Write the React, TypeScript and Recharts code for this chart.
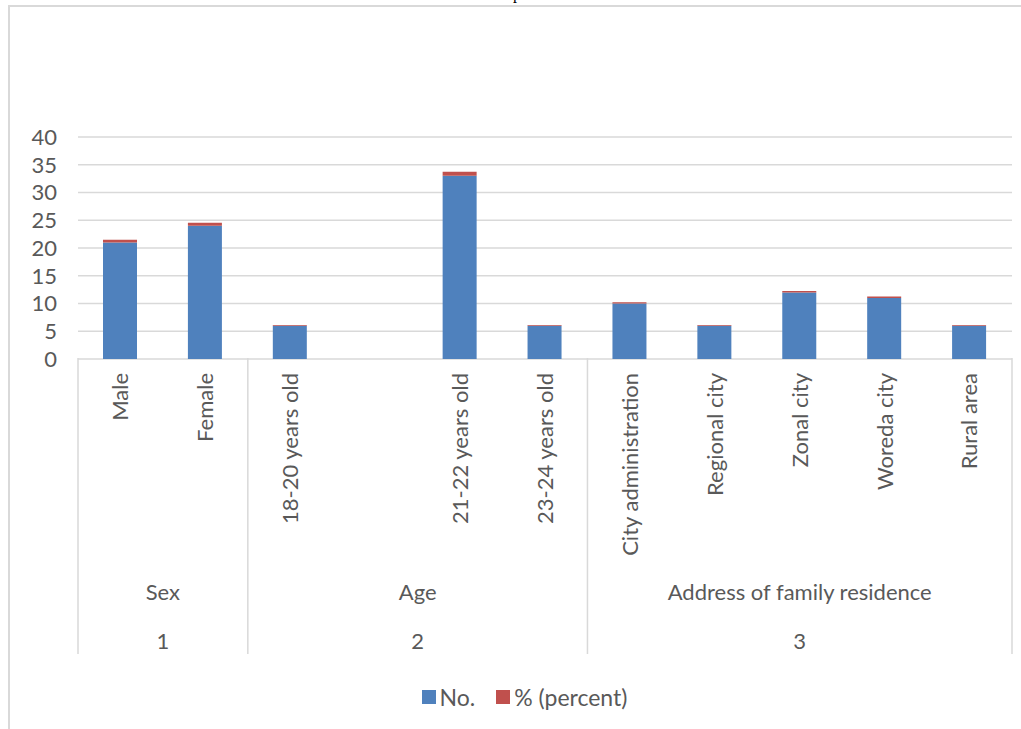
import React from 'react';
import { BarChart, Bar, XAxis, YAxis, CartesianGrid, Legend } from 'recharts';

// category labels (blank slot kept between the first and second age group)
const categories = [
    'Male',
    'Female',
    '18-20 years old',
    '',
    '21-22 years old',
    '23-24 years old',
    'City administration',
    'Regional city',
    'Zonal city',
    'Woreda city',
    'Rural area'
];
const counts = [21, 24, 6, null, 33, 6, 10, 6, 12, 11, 6];
const percents = [0.467, 0.533, 0.133, null, 0.733, 0.133, 0.222, 0.133, 0.267, 0.244, 0.133];

const groupNames = ['Sex', 'Age', 'Address of family residence'];
const groupNumbers = ['1', '2', '3'];
const groupSizes = [2, 4, 5];

const yTicks = [0, 5, 10, 15, 20, 25, 30, 35, 40];
const seriesNames = ['No.', '% (percent)'];
const colors = ['#4f81bd', '#c0504d'];

const TEXT = '#595959';
const LINE = '#d9d9d9';
const FONT = 'Lato, "Open Sans", sans-serif';
const FS = 22;

// slot = centre of each category in category units, used by the helper number axes
const chartData = categories.map((label, i) => ({
    label,
    slot: i + 0.5,
    no: counts[i],
    pct: percents[i]
}));

// group boundaries and centres, in category units
const bounds = groupSizes.reduce<number[]>((acc, s) => [...acc, acc[acc.length - 1] + s], [0]);
const centres = groupSizes.map((s, i) => bounds[i] + s / 2);
const total = bounds[bounds.length - 1];

// bottom axes stack in id order, so ids are prefixed to keep them in place
const SEP = 'a_sep';
const CAT = 'b_cat';
const GRP = 'c_grp';
const NUM = 'd_num';

const CategoryTick = (props: any) => {
    const { x, y, payload } = props;
    const ty = y + 13;
    return (
        <text
            x={x}
            y={ty}
            transform={`rotate(-90 ${x} ${ty})`}
            textAnchor="end"
            dy="0.36em"
            fill={TEXT}
            fontSize={FS}
            fontFamily={FONT}
        >
            {payload.value}
        </text>
    );
};

// group separator: a long vertical line hanging from the category axis
const SeparatorTick = (props: any) => {
    const { x, y } = props;
    return <line x1={x} x2={x} y1={y - 1} y2={y + 295} stroke={LINE} strokeWidth={1.5} />;
};

const makeGroupTick = (labels: string[], offset: number) => (props: any) => {
    const { x, y, payload } = props;
    const idx = centres.indexOf(payload.value);
    return (
        <text x={x} y={y + offset} textAnchor="middle" dy="0.36em" fill={TEXT} fontSize={FS} fontFamily={FONT}>
            {labels[idx] ?? ''}
        </text>
    );
};

const LegendContent = () => (
    <div
        style={{
            width: 1021,
            height: 64,
            display: 'flex',
            alignItems: 'center',
            justifyContent: 'center',
            paddingLeft: 28,
            boxSizing: 'border-box',
            fontFamily: FONT,
            fontSize: 23,
            color: TEXT
        }}
    >
        {seriesNames.map((name, i) => (
            <span key={name} style={{ display: 'flex', alignItems: 'center', marginRight: i === 0 ? 21 : 0 }}>
                <span style={{ width: 14, height: 14, background: colors[i], marginRight: 4, display: 'inline-block' }} />
                {name}
            </span>
        ))}
    </div>
);

export default function App() {
    return (
        <div
            style={{
                position: 'absolute',
                left: 0,
                top: 0,
                width: 1021,
                height: 729,
                overflow: 'hidden',
                background: '#fff'
            }}
        >
            <span
                style={{
                    position: 'absolute',
                    left: 513,
                    top: -14,
                    fontFamily: '"Liberation Serif", serif',
                    fontSize: 16,
                    lineHeight: '16px',
                    color: '#000'
                }}
            >
                p
            </span>
            <div
                style={{
                    position: 'absolute',
                    left: 8,
                    top: 5,
                    width: 1100,
                    height: 800,
                    border: `2px solid ${LINE}`
                }}
            />
            <div style={{ position: 'absolute', left: 0, top: 0 }}>
                <BarChart
                    width={1021}
                    height={729}
                    data={chartData}
                    margin={{ top: 137, right: 9, left: 0, bottom: 0 }}
                    barSize={34}
                >
                    <CartesianGrid xAxisId={CAT} vertical={false} stroke={LINE} strokeWidth={1.5} />
                    <XAxis
                        xAxisId={SEP}
                        dataKey="slot"
                        type="number"
                        domain={[0, total]}
                        ticks={bounds}
                        allowDataOverflow
                        interval={0}
                        height={1}
                        tickSize={0}
                        tickMargin={0}
                        tickLine={false}
                        axisLine={false}
                        tick={<SeparatorTick />}
                    />
                    <XAxis
                        xAxisId={CAT}
                        dataKey="label"
                        type="category"
                        interval={0}
                        height={215}
                        tickSize={0}
                        tickMargin={0}
                        tickLine={false}
                        axisLine={false}
                        tick={<CategoryTick />}
                    />
                    <XAxis
                        xAxisId={GRP}
                        dataKey="slot"
                        type="number"
                        domain={[0, total]}
                        ticks={centres}
                        allowDataOverflow
                        height={42}
                        tickSize={0}
                        tickMargin={0}
                        tickLine={false}
                        axisLine={false}
                        interval={0}
                        tick={makeGroupTick(groupNames, 17)}
                    />
                    <XAxis
                        xAxisId={NUM}
                        dataKey="slot"
                        type="number"
                        domain={[0, total]}
                        ticks={centres}
                        allowDataOverflow
                        height={48}
                        tickSize={0}
                        tickMargin={0}
                        tickLine={false}
                        axisLine={false}
                        interval={0}
                        tick={makeGroupTick(groupNumbers, 24)}
                    />
                    <YAxis
                        domain={[0, 40]}
                        ticks={yTicks}
                        interval={0}
                        width={78}
                        tickLine={false}
                        axisLine={false}
                        tickSize={0}
                        tickMargin={21}
                        tick={{ fill: TEXT, fontSize: FS, fontFamily: FONT }}
                    />
                    <Legend verticalAlign="bottom" content={<LegendContent />} />
                    <Bar
                        xAxisId={CAT}
                        dataKey="no"
                        name={seriesNames[0]}
                        stackId="a"
                        fill={colors[0]}
                        isAnimationActive={false}
                    />
                    <Bar
                        xAxisId={CAT}
                        dataKey="pct"
                        name={seriesNames[1]}
                        stackId="a"
                        fill={colors[1]}
                        isAnimationActive={false}
                    />
                </BarChart>
            </div>
        </div>
    );
}
